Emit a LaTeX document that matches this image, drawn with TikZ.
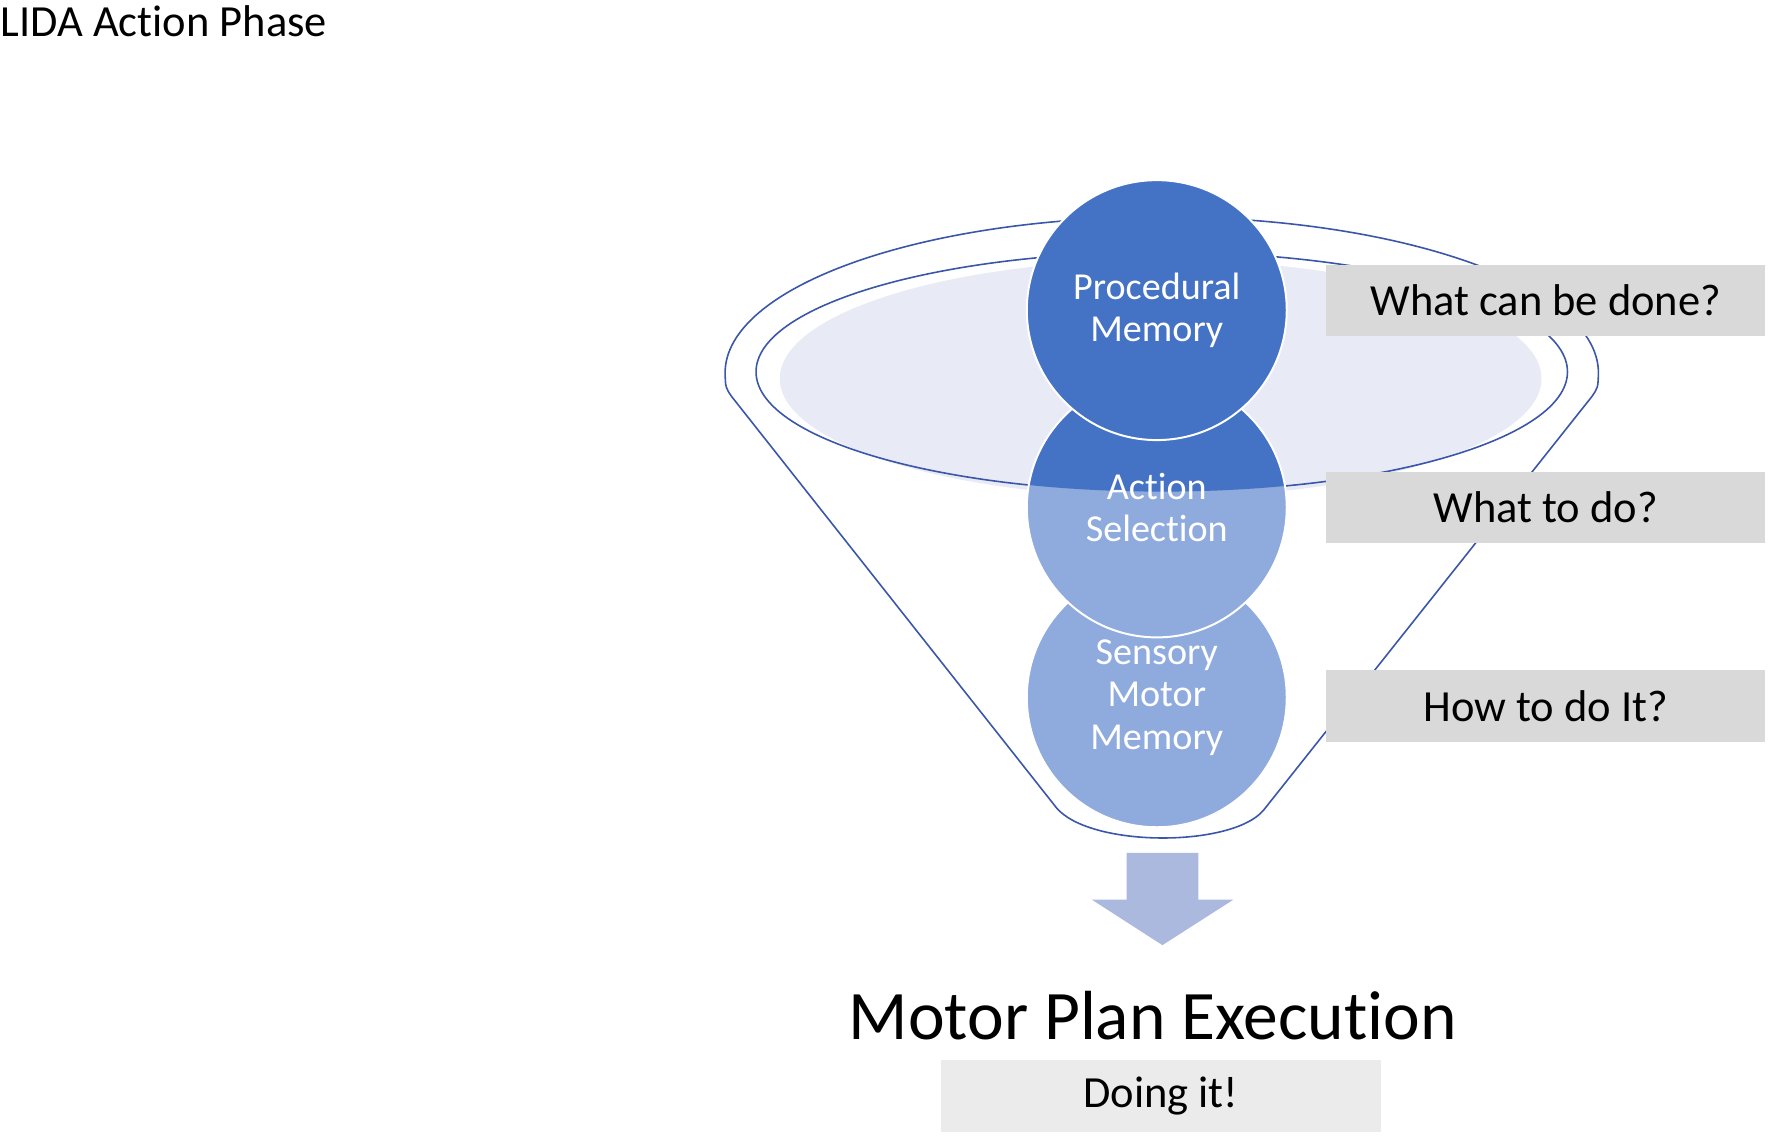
\documentclass[tikz,border=0pt]{standalone}
\usepackage{fontspec}
\setmainfont{Carlito}[Ligatures={NoCommon,NoRare,NoContextual}, Contextuals=NoAlternate]
\definecolor{darkblue}{HTML}{4472C4}
\definecolor{lightblue}{HTML}{8FAADC}
\definecolor{rimfill}{HTML}{E8EAF5}
\definecolor{rimline}{HTML}{3A56A8}
\definecolor{arrowblue}{HTML}{ABB9DF}
\definecolor{boxgray}{HTML}{D9D9D9}
\definecolor{boxlight}{HTML}{EBEBEB}

\begin{document}
\begin{tikzpicture}[
    memory/.style={circle, minimum size=2.3cm, inner sep=0pt, draw=white, line width=0.5pt,
        text=white, align=center, font=\fontsize{9.6}{10.7}\selectfont},
    question/.style={fill=boxgray, minimum width=3.885cm, minimum height=0.63cm, inner sep=0pt,
        font=\fontsize{11.2}{13}\selectfont},
    funnel/.style={draw=rimline, line width=0.4pt}]
    \useasboundingbox (0,0) rectangle (15.68,10.06);
    \node[anchor=base west, inner sep=0pt, font=\fontsize{11.2}{13}\selectfont] (title) at (0,9.735) {LIDA Action Phase};
    % funnel
    \fill[rimfill] (10.27,6.71) ellipse (3.37 and 1.05);
    \draw[funnel] (10.28,6.77) ellipse (3.59 and 1.06);
    \draw[funnel] (9.35,2.91) -- (6.475,6.55) .. controls (6.42,6.63) .. (6.416,6.76)
        arc[start angle=180, end angle=0, x radius=3.864, y radius=1.38]
        .. controls (14.14,6.63) .. (14.085,6.55) -- (11.18,2.89)
        .. controls (10.9,2.56) and (9.65,2.56) .. (9.35,2.91);
    % memories
    \node[memory, fill=lightblue] (sensory) at (10.236,3.89) {Sensory\\Motor\\Memory};
    \node[memory, fill=lightblue, path picture={
        \fill[darkblue] ([shift={(0.044,1.2)}]path picture bounding box.center) ellipse (3.59 and 1.06);}]
        (action) at (10.236,5.57) {Action\\Selection};
    \node[memory, fill=darkblue] (procedural) at (10.236,7.316) {Procedural\\Memory};
    % questions
    \foreach \y/\txt/\nm in {7.40/What can be done?/done, 5.572/What to do?/todo, 3.813/How to do It?/howto}
        \node[question] (\nm) at (13.678,\y) {\txt};
    % output
    \fill[arrowblue] (9.97,2.514) -- (10.605,2.514) -- (10.605,2.10) -- (10.915,2.10)
        -- (10.286,1.697) -- (9.66,2.10) -- (9.97,2.10) -- cycle;
    \node[anchor=base, inner sep=0pt, font=\fontsize{17.5}{20}\selectfont] (motor) at (10.20,0.86) {Motor Plan Execution};
    \node[question, fill=boxlight, minimum width=3.895cm, minimum height=0.635cm] (doing) at (10.2725,0.3625) {Doing it!};
\end{tikzpicture}
\end{document}
